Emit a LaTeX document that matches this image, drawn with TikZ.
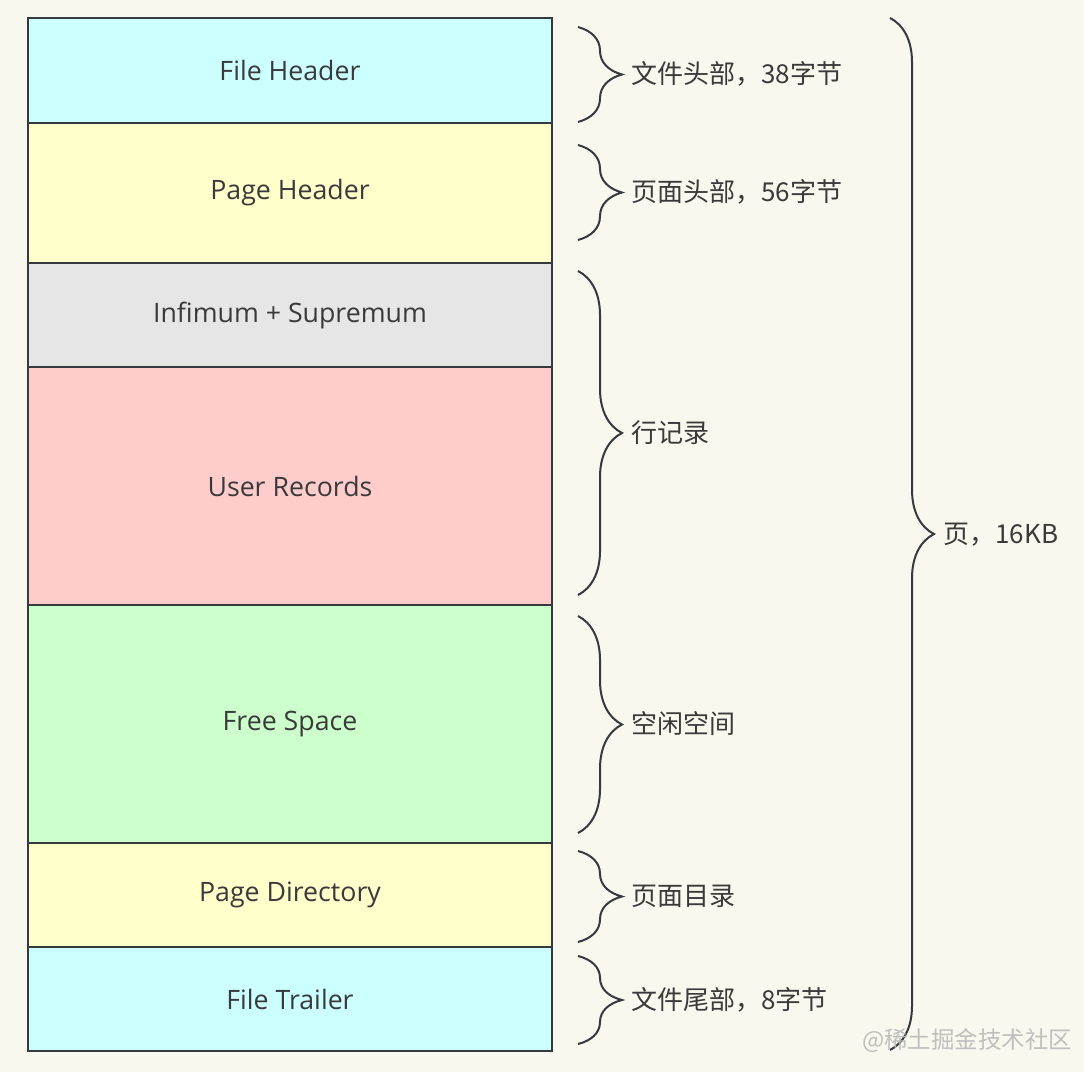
\documentclass[tikz,border=0pt]{standalone}
\usepackage{fontspec}
\setmainfont{Open Sans}
\newfontfamily\cjk{Noto Sans CJK SC}
\usetikzlibrary{decorations.pathreplacing}

\definecolor{bgcol}{HTML}{F8F8EE}
\definecolor{edgecol}{HTML}{36393D}
\definecolor{txtcol}{HTML}{3A3A3A}
\definecolor{cyanfill}{HTML}{CCFFFF}
\definecolor{yellowfill}{HTML}{FFFFCC}
\definecolor{greyfill}{HTML}{E6E6E6}
\definecolor{pinkfill}{HTML}{FFCCCC}
\definecolor{greenfill}{HTML}{CCFFCC}

\tikzset{
  blk/.style={draw=edgecol, line width=0.05cm},
  blktext/.style={text=txtcol, font=\fontsize{19}{23}\selectfont, inner sep=0pt},
  brc/.style={draw=edgecol, line width=0.05cm,
    decorate, decoration={brace, amplitude=1.1cm}},
  lbl/.style={text=txtcol, font=\cjk\fontsize{18.5}{22}\selectfont,
    anchor=west, inner sep=0pt}
}

\begin{document}
\begin{tikzpicture}[x=0.025cm, y=-0.025cm]
\fill [bgcol] (0,0) rectangle (1084,1072);
\useasboundingbox (0,0) rectangle (1084,1072);

% page layout
\draw [blk, fill=cyanfill] (28,18) rectangle (552,123);
\node [blktext] (fh) at (290,70) {File Header};
\draw [blk, fill=yellowfill] (28,123) rectangle (552,263);
\node [blktext] (ph) at (290,193) {Page Header};
\draw [blk, fill=greyfill] (28,263) rectangle (552,367);
\node [blktext] (is) at (290,315) {Infimum + Supremum};
\draw [blk, fill=pinkfill] (28,367) rectangle (552,605);
\node [blktext] (ur) at (290,486) {User Records};
\draw [blk, fill=greenfill] (28,605) rectangle (552,843);
\node [blktext] (fs) at (290,724) {Free Space};
\draw [blk, fill=yellowfill] (28,843) rectangle (552,947);
\node [blktext] (pd) at (290,895) {Page Directory};
\draw [blk, fill=cyanfill] (28,947) rectangle (552,1051);
\node [blktext] (ft) at (290,999) {File Trailer};

% braces
\coordinate (b1t) at (578,27);  \coordinate (b1b) at (578,122);
\coordinate (b2t) at (578,145); \coordinate (b2b) at (578,240);
\coordinate (b3t) at (578,271); \coordinate (b3b) at (578,595);
\coordinate (b4t) at (578,616); \coordinate (b4b) at (578,833);
\coordinate (b5t) at (578,851); \coordinate (b5b) at (578,942);
\coordinate (b6t) at (578,956); \coordinate (b6b) at (578,1044);
\coordinate (b7t) at (890,18);  \coordinate (b7b) at (890,1050);
\draw [brc] (b1t) -- (b1b);
\draw [brc] (b2t) -- (b2b);
\draw [brc] (b3t) -- (b3b);
\draw [brc] (b4t) -- (b4b);
\draw [brc] (b5t) -- (b5b);
\draw [brc] (b6t) -- (b6b);
\draw [brc] (b7t) -- (b7b);

\node [lbl] (l1) at (631,74) {文件头部，38字节};
\node [lbl] (l2) at (631,192) {页面头部，56字节};
\node [lbl] (l3) at (631,433) {行记录};
\node [lbl] (l4) at (631,724) {空闲空间};
\node [lbl] (l5) at (631,896) {页面目录};
\node [lbl] (l6) at (631,1000) {文件尾部，8字节};
\node [lbl] (l7) at (943,535) {页，16KB};

\node [lbl, text=gray!55, opacity=0.9, font=\cjk\fontsize{16.7}{20}\selectfont] (wm) at (862,1041) {@稀土掘金技术社区};
\end{tikzpicture}
\end{document}
